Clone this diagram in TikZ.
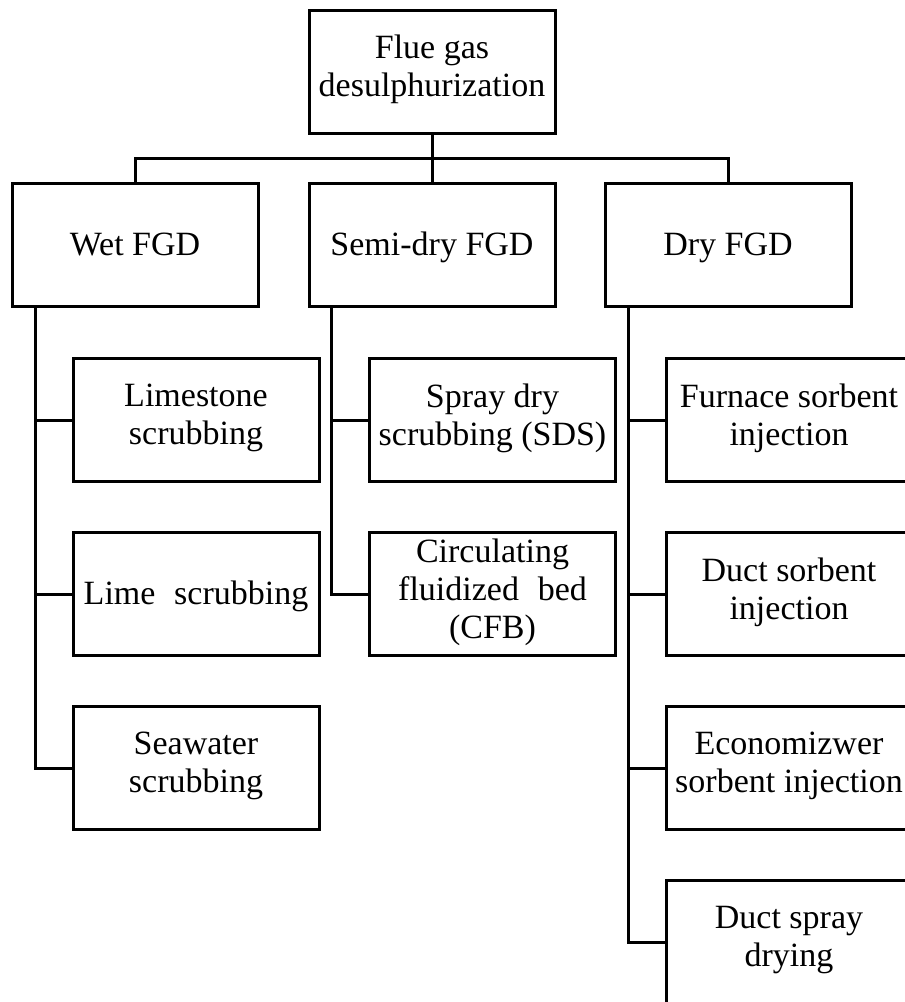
\documentclass[tikz,border=0pt]{standalone}
\usepackage{fontspec}
\setmainfont{Liberation Serif}
\newcommand\topstrut{\rule{0pt}{31.6pt}}
\newcommand\botstrut{\rule[-11.4pt]{0pt}{11.4pt}}
\begin{document}
\begin{tikzpicture}[x=1pt,y=-1pt,
  box/.style={draw=black, line width=3pt, minimum width=246pt, minimum height=123pt,
    inner sep=0pt, align=center, font=\fontsize{34}{38}\selectfont,
    execute at begin node=\topstrut, execute at end node=\botstrut},
  conn/.style={draw=black, line width=3pt}]
\useasboundingbox (0,0) rectangle (905,1002);
\clip (0,0) rectangle (905,1002);
\fill[white] (0,0) rectangle (905,1002);
% top
\node[box] (top) at (432,71.5) {Flue gas\\desulphurization};
% level 1
\node[box] (wet) at (135,245) {Wet FGD};
\node[box] (semi) at (432,245) {Semi-dry FGD};
\node[box] (dry) at (728,245) {Dry FGD};
% wet children
\node[box] (lst) at (196,420) {Limestone\\scrubbing};
\node[box] (lime) at (196,594) {Lime\hspace{0.3em} scrubbing};
\node[box] (sea) at (196,768) {Seawater\\scrubbing};
% semi children
\node[box] (sds) at (492.5,420) {Spray dry\\scrubbing (SDS)};
\node[box] (cfb) at (492.5,594) {Circulating\\fluidized\hspace{0.3em} bed\\(CFB)};
% dry children
\node[box] (fsi) at (789,420) {Furnace sorbent\\injection};
\node[box] (dsi) at (789,594) {Duct sorbent\\injection};
\node[box] (esi) at (789,768) {Economizwer\\sorbent injection};
\node[box] (dsd) at (789,942) {Duct spray\\drying};
% top connectors
\coordinate (bus) at (432,158);
\draw[conn] (top.south) -- (semi.north);
\draw[conn] (wet.north) |- (bus) -| (dry.north);
% trunks
\coordinate (wt) at ([xshift=25pt]wet.south west);
\coordinate (st) at ([xshift=24pt]semi.south west);
\coordinate (dt) at ([xshift=25pt]dry.south west);
\draw[conn] (wt) |- (sea.west);
\draw[conn] (lst.west) -- (lst.west -| wt);
\draw[conn] (lime.west) -- (lime.west -| wt);
\draw[conn] (st) |- (cfb.west);
\draw[conn] (sds.west) -- (sds.west -| st);
\draw[conn] (dt) |- (dsd.west);
\draw[conn] (fsi.west) -- (fsi.west -| dt);
\draw[conn] (dsi.west) -- (dsi.west -| dt);
\draw[conn] (esi.west) -- (esi.west -| dt);
\end{tikzpicture}
\end{document}
